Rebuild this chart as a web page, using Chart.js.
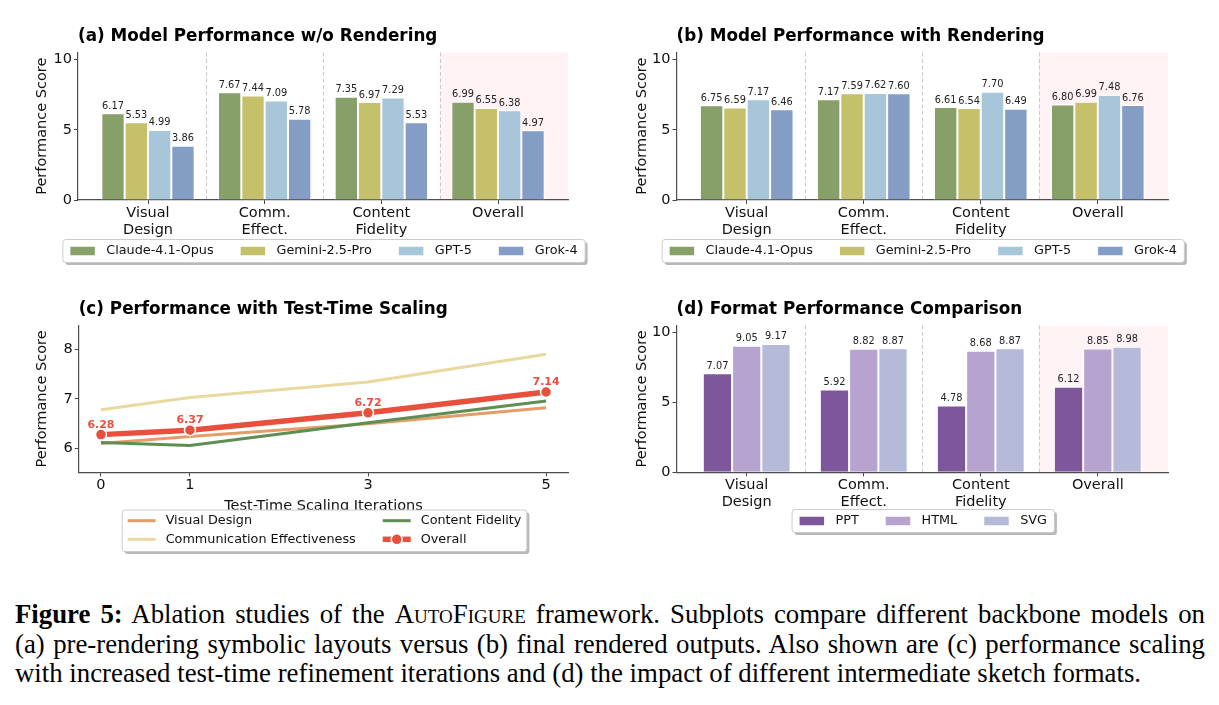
<!DOCTYPE html>
<html>
<head>
<meta charset="utf-8">
<script src="https://cdn.jsdelivr.net/npm/chart.js"></script>
<style>
  body { margin: 0; background: #fff; }
  #fig { position: relative; width: 1219px; height: 705px; overflow: hidden; }
  canvas { position: absolute; }
  #caption {
    position: absolute; left: 15px; top: 600px; width: 1190px;
    font-family: "Liberation Serif", "Times New Roman", serif;
    font-size: 26.8px; line-height: 29.5px; color: #000;
  }
  #caption .ln { white-space: nowrap; }
  #caption .j { text-align: justify; text-align-last: justify; }
  #caption .sc { font-variant: small-caps; }
</style>
</head>
<body>
<div id="fig">
  <canvas id="chartA" width="600" height="290" style="left:0;top:0"></canvas>
  <canvas id="chartB" width="619" height="290" style="left:600px;top:0"></canvas>
  <canvas id="chartC" width="600" height="280" style="left:0;top:280px"></canvas>
  <canvas id="chartD" width="619" height="280" style="left:600px;top:280px"></canvas>
  <div id="caption">
    <div class="ln j"><b>Figure 5:</b> Ablation studies of the <span class="sc">AutoFigure</span> framework. Subplots compare different backbone models on</div>
    <div class="ln j">(a) pre-rendering symbolic layouts versus (b) final rendered outputs. Also shown are (c) performance scaling</div>
    <div class="ln">with increased test-time refinement iterations and (d) the impact of different intermediate sketch formats.</div>
  </div>
</div>
<script>
// data
const categories = [["Visual", "Design"], ["Comm.", "Effect."], ["Content", "Fidelity"], ["Overall"]];
const models = ["Claude-4.1-Opus", "Gemini-2.5-Pro", "GPT-5", "Grok-4"];
const modelColors = ["#87a06a", "#c5c16a", "#a8c6da", "#839dc4"];

// (a) w/o rendering
const claudeNoRender = [6.17, 7.67, 7.35, 6.99];
const geminiNoRender = [5.53, 7.44, 6.97, 6.55];
const gptNoRender = [4.99, 7.09, 7.29, 6.38];
const grokNoRender = [3.86, 5.78, 5.53, 4.97];

// (b) with rendering
const claudeRender = [6.75, 7.17, 6.61, 6.80];
const geminiRender = [6.59, 7.59, 6.54, 6.99];
const gptRender = [7.17, 7.62, 7.70, 7.48];
const grokRender = [6.46, 7.60, 6.49, 6.76];

// (c) test-time scaling
const iterations = [0, 1, 3, 5];
const lineNames = ["Visual Design", "Communication Effectiveness", "Content Fidelity", "Overall"];
const lineColors = ["#e29d68", "#e9d9a1", "#5f8e52", "#e8503d"];
const visualDesign = [6.10, 6.24, 6.50, 6.82];
const commEffect = [6.78, 7.03, 7.34, 7.90];
const contentFidelity = [6.12, 6.06, 6.52, 6.96];
const overallScore = [6.28, 6.37, 6.72, 7.14];

// (d) formats
const formats = ["PPT", "HTML", "SVG"];
const formatColors = ["#7d569b", "#b7a3cf", "#b4bad8"];
const pptScores = [7.07, 5.92, 4.78, 6.12];
const htmlScores = [9.05, 8.82, 8.68, 8.85];
const svgScores = [9.17, 8.87, 8.87, 8.98];

const barTicks = [0, 5, 10];
const lineTicks = [6, 7, 8];

Chart.defaults.font.family = "'DejaVu Sans', sans-serif";
Chart.defaults.color = "#111";

const FONT = "'DejaVu Sans', sans-serif";
const tickFont = { size: 14.5, lineHeight: 1.15 };

// pink band behind the last group + dashed separators
const groupBands = {
  id: "groupBands",
  beforeDraw(chart) {
    const { ctx, chartArea: a, scales: { x } } = chart;
    const n = categories.length;
    ctx.save();
    const x0 = x.getPixelForValue(n - 1.5);
    ctx.fillStyle = "#fff3f6";
    ctx.fillRect(x0, a.top, a.right - x0, a.bottom - a.top);
    ctx.strokeStyle = "#c9c9c9";
    ctx.lineWidth = 1;
    ctx.setLineDash([4, 2.5]);
    for (let i = 0; i < n - 1; i++) {
      const px = Math.round(x.getPixelForValue(i + 0.5)) + 0.5;
      ctx.beginPath();
      ctx.moveTo(px, a.top);
      ctx.lineTo(px, a.bottom);
      ctx.stroke();
    }
    ctx.restore();
  },
};

// numbers above bars / points
const valueLabels = {
  id: "valueLabels",
  afterDatasetsDraw(chart, args, opts) {
    const { ctx } = chart;
    ctx.save();
    ctx.font = (opts.bold ? "bold " : "") + opts.size + "px " + FONT;
    ctx.fillStyle = opts.color;
    ctx.textAlign = "center";
    ctx.textBaseline = "alphabetic";
    chart.data.datasets.forEach((ds, i) => {
      if (opts.only && !opts.only.includes(i)) return;
      chart.getDatasetMeta(i).data.forEach((el, j) => {
        ctx.fillText(ds.data[j].y.toFixed(2), el.x, el.y - opts.offset);
      });
    });
    ctx.restore();
  },
};

// matplotlib style framed legend under the axes
const figLegend = {
  id: "figLegend",
  afterDraw(chart, args, o) {
    const { ctx, chartArea: a } = chart;
    const ds = chart.data.datasets;
    const nrow = Math.ceil(ds.length / o.ncol);
    ctx.save();
    ctx.font = o.size + "px " + FONT;
    const cols = [];
    for (let c = 0; c < o.ncol; c++) cols.push(ds.slice(c * nrow, c * nrow + nrow));
    const colW = cols.map((col) => Math.max(...col.map((d) => ctx.measureText(d.label).width)));
    const itemW = o.handle + o.textPad;
    const w = 2 * o.pad + colW.reduce((s, v) => s + v + itemW, 0) + (o.ncol - 1) * o.colGap;
    const left = (a.left + a.right) / 2 + 1 - w / 2;
    const top = o.top;
    ctx.fillStyle = "rgba(0,0,0,0.28)";
    ctx.beginPath();
    ctx.roundRect(left + 2.5, top + 2.5, w, o.height, 3);
    ctx.fill();
    ctx.fillStyle = "#fff";
    ctx.strokeStyle = "#cccccc";
    ctx.lineWidth = 1;
    ctx.beginPath();
    ctx.roundRect(left, top, w, o.height, 3);
    ctx.fill();
    ctx.stroke();
    let x = left + o.pad;
    cols.forEach((col, c) => {
      col.forEach((d, r) => {
        const y = top + o.firstRow + r * o.rowGap;
        if (chart.config.type === "bar") {
          ctx.fillStyle = d.backgroundColor;
          ctx.fillRect(x, y - o.patchH / 2, o.handle, o.patchH);
        } else {
          ctx.strokeStyle = d.borderColor;
          ctx.lineWidth = d.borderWidth;
          ctx.lineCap = "butt";
          ctx.beginPath();
          ctx.moveTo(x, y);
          ctx.lineTo(x + o.handle, y);
          ctx.stroke();
          if (d.pointRadius > 0) {
            ctx.fillStyle = d.pointBackgroundColor;
            ctx.strokeStyle = "#fff";
            ctx.lineWidth = d.pointBorderWidth;
            ctx.beginPath();
            ctx.arc(x + o.handle / 2, y, d.pointRadius, 0, Math.PI * 2);
            ctx.fill();
            ctx.stroke();
          }
        }
        ctx.fillStyle = "#111";
        ctx.textAlign = "left";
        ctx.textBaseline = "middle";
        ctx.fillText(d.label, x + itemW, y);
      });
      x += itemW + colW[c] + o.colGap;
    });
    ctx.restore();
  },
};

function xy(xs, ys) {
  return ys.map((v, i) => ({ x: xs[i], y: v }));
}

const catIndex = categories.map((c, i) => i);

function axisY(width, ticks, min, max, titlePad) {
  return {
    min: min,
    max: max,
    afterBuildTicks: (s) => { s.ticks = ticks.map((v) => ({ value: v })); },
    afterFit: (s) => { s.width = width; },
    ticks: { font: tickFont, color: "#111", padding: 2 },
    grid: { drawOnChartArea: false, tickLength: 4, color: "#444" },
    border: { color: "#4d4d4d", width: 1.2 },
    title: { display: true, text: "Performance Score", font: { size: 14.5 }, color: "#111", padding: { top: titlePad, bottom: 0 } },
  };
}

function barConfig(title, names, colors, series, yWidth, rightPad, bottomPad, titleTop, legendTop, ncol, groupPct) {
  return {
    type: "bar",
    data: {
      datasets: names.map((n, i) => ({
        label: n,
        data: xy(catIndex, series[i]),
        backgroundColor: colors[i],
        borderColor: "#fff",
        borderWidth: 1,
      })),
    },
    options: {
      responsive: false,
      animation: false,
      categoryPercentage: groupPct,
      barPercentage: 1,
      layout: { padding: { top: 0, left: 0, right: rightPad, bottom: bottomPad } },
      scales: {
        x: {
          type: "linear",
          min: -0.6,
          max: 3.6,
          offset: false,
          afterBuildTicks: (s) => { s.ticks = catIndex.map((v) => ({ value: v })); },
          afterFit: (s) => { s.height = 40; },
          ticks: { font: tickFont, color: "#111", padding: 1, maxRotation: 0, autoSkip: false, callback: (v) => categories[v] },
          grid: { drawOnChartArea: false, tickLength: 4, color: "#444", offset: false },
          border: { color: "#4d4d4d", width: 1.2 },
        },
        y: axisY(yWidth, barTicks, 0, 10.5, 33.5),
      },
      plugins: {
        legend: { display: false },
        tooltip: { enabled: false },
        title: {
          display: true, text: title, align: "start", fullSize: false, color: "#000",
          font: { size: 16.8, weight: "bold", lineHeight: 1.2 },
          padding: { top: titleTop, bottom: 5.4 },
        },
        valueLabels: { size: 9.8, color: "#222", offset: 4.5 },
        figLegend: {
          ncol: ncol, size: 12.8, top: legendTop, height: 23, firstRow: 11.5, rowGap: 19,
          handle: 24.5, patchH: 8.5, textPad: 11.4, colGap: 27, pad: 7.5,
        },
      },
    },
    plugins: [groupBands, valueLabels, figLegend],
  };
}

// (a)
new Chart("chartA", barConfig(
  "(a) Model Performance w/o Rendering", models, modelColors,
  [claudeNoRender, geminiNoRender, gptNoRender, grokNoRender],
  78, 32, 50, 26.9, 239.5, 4, 0.8));

// (b)
new Chart("chartB", barConfig(
  "(b) Model Performance with Rendering", models, modelColors,
  [claudeRender, geminiRender, gptRender, grokRender],
  76.5, 51, 50, 26.9, 239.5, 4, 0.8));

// (d)
new Chart("chartD", barConfig(
  "(d) Format Performance Comparison", formats, formatColors,
  [pptScores, htmlScores, svgScores],
  76.5, 51, 47.7, 19.8, 229.5, 3, 0.75));

// (c)
const lineSeries = [visualDesign, commEffect, contentFidelity, overallScore];
new Chart("chartC", {
  type: "line",
  data: {
    datasets: lineNames.map((n, i) => {
      const main = i === lineNames.length - 1;
      return {
        label: n,
        data: xy(iterations, lineSeries[i]),
        borderColor: lineColors[i],
        backgroundColor: lineColors[i],
        borderWidth: main ? 5.5 : 3,
        tension: 0,
        pointRadius: main ? 5.5 : 0,
        pointBackgroundColor: lineColors[i],
        pointBorderColor: "#fff",
        pointBorderWidth: 1.5,
        order: lineNames.length - i,
      };
    }),
  },
  options: {
    responsive: false,
    animation: false,
    layout: { padding: { top: 0, left: 0, right: 31.7, bottom: 42.7 } },
    scales: {
      x: {
        type: "linear",
        min: -0.25,
        max: 5.25,
        afterBuildTicks: (s) => { s.ticks = iterations.map((v) => ({ value: v })); },
        afterFit: (s) => { s.height = 45; },
        ticks: { font: tickFont, color: "#111", padding: 1, maxRotation: 0 },
        grid: { drawOnChartArea: false, tickLength: 4, color: "#444" },
        border: { color: "#4d4d4d", width: 1.2 },
        title: { display: true, text: "Test-Time Scaling Iterations", font: { size: 14.5 }, color: "#111", padding: { top: 0, bottom: 2.6 } },
      },
      y: axisY(78.7, lineTicks, 5.52, 8.48, 33.5),
    },
    plugins: {
      legend: { display: false },
      tooltip: { enabled: false },
      title: {
        display: true, text: "(c) Performance with Test-Time Scaling", align: "start", fullSize: false, color: "#000",
        font: { size: 16.8, weight: "bold", lineHeight: 1.2 },
        padding: { top: 19.8, bottom: 5.6 },
      },
      valueLabels: { size: 11, bold: true, color: "#e8503d", offset: 7, only: [3] },
      figLegend: {
        ncol: 2, size: 12.8, top: 230, height: 41.5, firstRow: 10.7, rowGap: 18.6,
        handle: 28, patchH: 8, textPad: 10, colGap: 27, pad: 5.5,
      },
    },
  },
  plugins: [valueLabels, figLegend],
});
</script>
</body>
</html>
